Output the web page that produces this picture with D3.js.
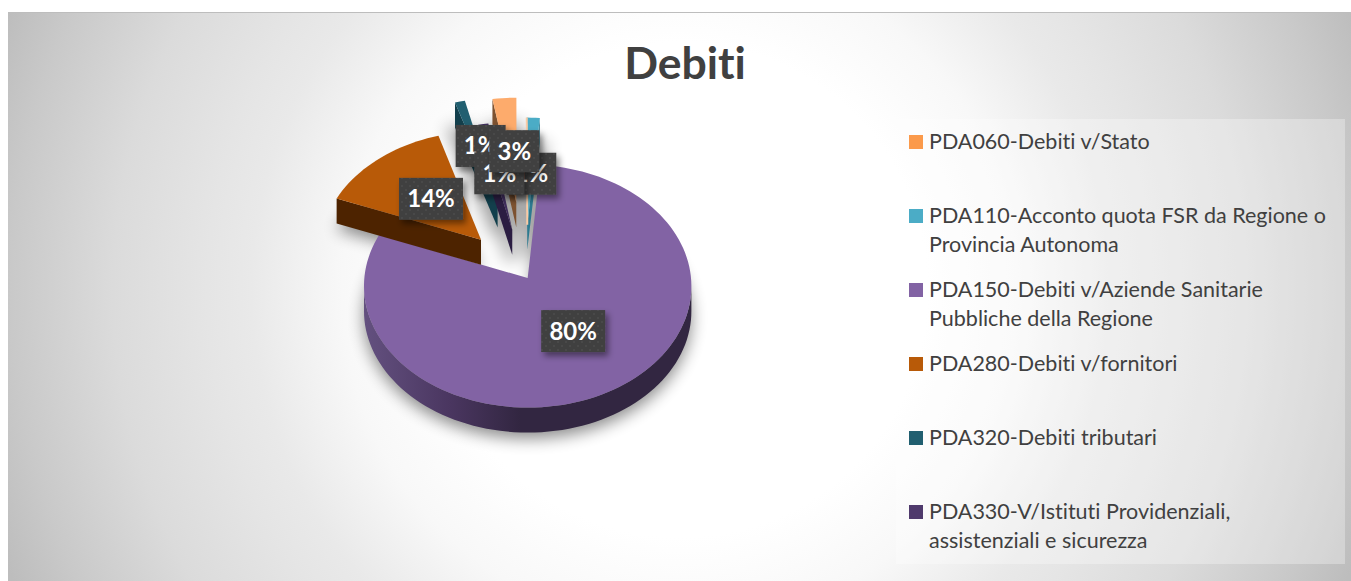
<!DOCTYPE html>
<html>
<head>
  <meta charset="utf-8">
  <title>Debiti</title>
  <script src="https://cdnjs.cloudflare.com/ajax/libs/d3/7.8.5/d3.min.js"></script>
  <style>
    html, body { margin: 0; padding: 0; background: #fff; }
    svg { display: block; font-family: Lato, sans-serif; font-variant-ligatures: none; }
  </style>
</head>
<body>
  <div id="viz"></div>
  <script type="text/javascript">
    // chart data
    var categories = [
      "PDA060-Debiti v/Stato",
      "PDA110-Acconto quota FSR da Regione o Provincia Autonoma",
      "PDA150-Debiti v/Aziende Sanitarie Pubbliche della Regione",
      "PDA280-Debiti v/fornitori",
      "PDA320-Debiti tributari",
      "PDA330-V/Istituti Providenziali, assistenziali e sicurezza"
    ];
    var values = [2.6, 1.4, 79.6, 14.2, 1.1, 1.1];

    // look of each slice
    var faceColors = ["#fdab6c", "#4bacc6", "#8263a4", "#b85a08", "#215f70", "#3f2d5c"];
    var wallColors = ["#7d5230", "#2c7a90", "url(#purpleWall)", "#4d2300", "#123f4c", "#2b1d42"];
    var legendColors = ["#fb9a4b", "#4bacc6", "#8263a4", "#b85a08", "#215f70", "#4f3a6c"];
    var explode = [102, 69, 6, 65, 105, 63];
    // label offset from the slice's own tip, in screen pixels
    var labelOffsets = [[-2, -51], [4, -51], [45.5, 53], [-50, -41], [-17, -56.5], [-13, -56.5]];
    var labelOrder = [1, 3, 2, 4, 5, 0];

    var width = 1351,
        height = 581,
        radius = 163,
        depth = 25,
        tilt = 0.739,
        persp = 0.000405,
        originX = 524.5,
        originY = 274.3;

    var svg = d3.select("#viz").append("svg")
        .attr("width", width)
        .attr("height", height);

    var defs = svg.append("defs");

    var bg = defs.append("radialGradient").attr("id", "bgGrad")
        .attr("gradientUnits", "userSpaceOnUse")
        .attr("cx", 680).attr("cy", 290).attr("r", 727);
    [[0.34, "#ffffff"], [0.465, "#f8f8f8"], [0.59, "#e9e9e9"], [0.65, "#e5e5e5"],
     [0.78, "#dbdbdb"], [0.92, "#c9c9c9"], [1, "#bdbdbd"]].forEach(function (s) {
      bg.append("stop").attr("offset", s[0]).attr("stop-color", s[1]);
    });

    var wall = defs.append("linearGradient").attr("id", "purpleWall")
        .attr("gradientUnits", "userSpaceOnUse")
        .attr("x1", 365).attr("x2", 520).attr("y1", 0).attr("y2", 0);
    wall.append("stop").attr("offset", "0").attr("stop-color", "#63507f");
    wall.append("stop").attr("offset", "0.55").attr("stop-color", "#4a3660");
    wall.append("stop").attr("offset", "1").attr("stop-color", "#322641");

    defs.append("filter").attr("id", "softShadow")
        .attr("x", "-30%").attr("y", "-30%").attr("width", "160%").attr("height", "160%")
      .append("feGaussianBlur").attr("stdDeviation", 8);

    defs.append("filter").attr("id", "labelShadow")
        .attr("x", "-30%").attr("y", "-30%").attr("width", "170%").attr("height", "170%")
      .append("feDropShadow")
        .attr("dx", 3).attr("dy", 4).attr("stdDeviation", 3)
        .attr("flood-color", "#000").attr("flood-opacity", 0.45);

    var dots = defs.append("pattern").attr("id", "labelDots")
        .attr("patternUnits", "userSpaceOnUse").attr("width", 8).attr("height", 8);
    dots.append("rect").attr("width", 8).attr("height", 8).attr("fill", "#404040");
    dots.append("circle").attr("cx", 2).attr("cy", 2).attr("r", 1).attr("fill", "#4c4c4c");
    dots.append("circle").attr("cx", 6).attr("cy", 6).attr("r", 1).attr("fill", "#4c4c4c");

    // background panel
    svg.append("rect")
        .attr("x", 8).attr("y", 12)
        .attr("width", width - 8).attr("height", height - 12)
        .attr("fill", "url(#bgGrad)");
    svg.append("line")
        .attr("x1", 8).attr("x2", width).attr("y1", 12.5).attr("y2", 12.5)
        .attr("stroke", "#bdbdbd");

    svg.append("text")
        .attr("x", 685).attr("y", 79)
        .attr("text-anchor", "middle")
        .attr("font-size", 44.5).attr("font-weight", 700)
        .attr("fill", "#404040")
        .text("Debiti");

    // pie geometry: angles come from d3.pie, then flat disc -> screen
    var startDeg = -9.5;
    var pie = d3.pie().sort(null)
        .startAngle(startDeg * Math.PI / 180)
        .endAngle((startDeg + 360) * Math.PI / 180);
    var total = d3.sum(values);
    var arcs = pie(values);

    function project(x, y) {
      var s = 1 / (1 + y * persp);
      return [originX + x * s, originY - y * tilt * s];
    }

    var line = d3.line();

    var slices = arcs.map(function (a, i) {
      var mid = (a.startAngle + a.endAngle) / 2;
      var tipX = explode[i] * Math.sin(mid), tipY = explode[i] * Math.cos(mid);
      var steps = Math.max(2, Math.ceil((a.endAngle - a.startAngle) / 0.04));
      var pts = [project(tipX, tipY)];
      d3.range(steps + 1).forEach(function (k) {
        var t = a.startAngle + (a.endAngle - a.startAngle) * k / steps;
        pts.push(project(tipX + radius * Math.sin(t), tipY + radius * Math.cos(t)));
      });
      return { index: i, mid: mid, pts: pts, tip: pts[0] };
    });

    // soft shadow under the whole pie, thin slices get a wider one
    svg.append("g").attr("filter", "url(#softShadow)")
        .attr("opacity", 0.45)
      .selectAll("path").data(slices).enter().append("path")
        .attr("d", function (d) {
          return line(d.pts.map(function (p) { return [p[0], p[1] + depth + 6]; })) + "Z";
        })
        .attr("fill", "#000")
        .attr("stroke", "#000")
        .attr("stroke-opacity", function (d) { return values[d.index] < 5 ? 0.5 : 0; })
        .attr("stroke-width", 16);

    // back to front
    var drawOrder = [2, 4, 5, 0, 1, 3];
    drawOrder.forEach(function (i) {
      var d = slices[i];
      var g = svg.append("g");
      var closed = d.pts.concat([d.pts[0]]);
      // only edges running right to left face the viewer, all wound the same way
      var wallPath = d3.pairs(closed)
        .filter(function (e) { return e[1][0] < e[0][0]; })
        .map(function (e) {
          return line([e[0], e[1], [e[1][0], e[1][1] + depth], [e[0][0], e[0][1] + depth]]) + "Z";
        }).join("");
      g.append("path")
          .attr("d", wallPath)
          .attr("fill", wallColors[i]);
      g.append("path")
          .attr("d", line(d.pts) + "Z")
          .attr("fill", faceColors[i]);
      // thin light edge on the left of the cyan sliver
      if (i === 1) {
        g.append("path")
            .attr("d", line([d.pts[0], d.pts[1]]))
            .attr("stroke", "#f9cba6")
            .attr("stroke-width", 2)
            .attr("fill", "none");
      }
    });

    // data labels
    var pct = d3.format(".0%");
    var boxW = 50, boxH = 42;
    labelOrder.forEach(function (i) {
      var d = slices[i];
      var big = values[i] >= 10;
      var w = big ? 64 : boxW;
      var cx = d.tip[0] + labelOffsets[i][0],
          cy = d.tip[1] + labelOffsets[i][1];
      var g = svg.append("g");
      g.append("rect")
          .attr("x", cx - w / 2).attr("y", cy - boxH / 2)
          .attr("width", w).attr("height", boxH)
          .attr("fill", "url(#labelDots)")
          .attr("filter", "url(#labelShadow)");
      g.append("text")
          .attr("x", cx).attr("y", cy + 8.5)
          .attr("text-anchor", "middle")
          .attr("font-size", 24).attr("font-weight", 700)
          .attr("fill", "#ffffff")
          .text(pct(values[i] / total));
    });

    // legend
    var legendX = 896, legendY = 119, legendRowStep = 74, legendLine = 29;
    svg.append("rect")
        .attr("x", legendX).attr("y", legendY)
        .attr("width", 449).attr("height", 445)
        .attr("fill", "#ffffff").attr("fill-opacity", 0.3);

    var legend = svg.selectAll("g.legend").data(categories).enter().append("g")
        .attr("class", "legend")
        .attr("transform", function (d, i) {
          return "translate(" + legendX + "," + (legendY + 23 + i * legendRowStep) + ")";
        });

    legend.append("rect")
        .attr("x", 13).attr("y", -7)
        .attr("width", 14).attr("height", 14)
        .attr("fill", function (d, i) { return legendColors[i]; });

    legend.each(function (name) {
      var g = d3.select(this);
      var txt = g.append("text")
          .attr("x", 33).attr("y", 6.5)
          .attr("font-size", 21.5)
          .attr("fill", "#404040");
      var current = [];
      var span = txt.append("tspan").attr("x", 33).attr("dy", 0);
      name.split(" ").forEach(function (word) {
        current.push(word);
        span.text(current.join(" "));
        if (span.node().getComputedTextLength() > 405) {
          current.pop();
          span.text(current.join(" "));
          current = [word];
          span = txt.append("tspan").attr("x", 33).attr("dy", legendLine).text(word);
        }
      });
    });
  </script>
</body>
</html>
